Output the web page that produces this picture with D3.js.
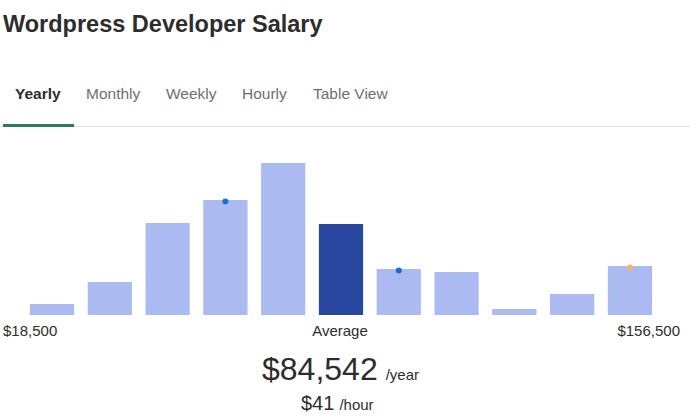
<!DOCTYPE html>
<html><head><meta charset="utf-8">
<script src="https://cdn.jsdelivr.net/npm/d3@7"></script>
<style>body{margin:0;background:#fff;font-family:Arial,"Liberation Sans",sans-serif}</style>
</head><body><svg id="c" width="690" height="419"></svg>
<script>
const bins = ["b1","b2","b3","b4","b5","b6","b7","b8","b9","b10","b11"];
const counts = [11,33,92,115,152,91,46,43,6,21,49];
const highlight = [false,false,false,false,false,true,false,false,false,false,false];
const dots = [{bin:"b4",color:"#1a6fd6"},{bin:"b7",color:"#1a6fd6"},{bin:"b11",color:"#f4b26b"}];
const tabs = ["Yearly","Monthly","Weekly","Hourly","Table View"];
const tabX = [15,86,166,242,313];

const svg = d3.select("#c");
svg.append("text").attr("x",3).attr("y",32).attr("font-size",23.5).attr("font-weight","bold").attr("fill","#2d2d2d").text("Wordpress Developer Salary");
tabs.forEach((t,i)=>svg.append("text").attr("x",tabX[i]).attr("y",99).attr("font-size",15.5)
  .attr("font-weight",i===0?"bold":"normal").attr("fill",i===0?"#2d2d2d":"#6f6f6f").text(t));
svg.append("rect").attr("x",0).attr("y",126).attr("width",690).attr("height",1).attr("fill","#e0e0e0");
svg.append("rect").attr("x",3).attr("y",124).attr("width",71).attr("height",3).attr("fill","#2a7a64");

const x = d3.scaleBand().domain(bins).range([23,659]).paddingInner(0.235).paddingOuter(0.12);
const y = d3.scaleLinear().domain([0,152]).range([315,163]);
svg.selectAll(".bar").data(bins).enter().append("rect")
  .attr("x",d=>x(d)).attr("width",x.bandwidth())
  .attr("y",(d,i)=>y(counts[i])).attr("height",(d,i)=>315-y(counts[i]))
  .attr("fill",(d,i)=>highlight[i]?"#2a47a0":"#abbbf2");
svg.selectAll(".dot").data(dots).enter().append("circle")
  .attr("cx",d=>x(d.bin)+x.bandwidth()/2)
  .attr("cy",d=>y(counts[bins.indexOf(d.bin)])+1.5).attr("r",3).attr("fill",d=>d.color);

svg.append("text").attr("x",3).attr("y",336).attr("font-size",15).attr("fill","#2d2d2d").text("$18,500");
svg.append("text").attr("x",340).attr("y",336).attr("text-anchor","middle").attr("font-size",15).attr("fill","#2d2d2d").text("Average");
svg.append("text").attr("x",680).attr("y",336).attr("text-anchor","end").attr("font-size",15).attr("fill","#2d2d2d").text("$156,500");
const t1 = svg.append("text").attr("x",262).attr("y",380).attr("fill","#2d2d2d");
t1.append("tspan").attr("font-size",32).text("$84,542");
t1.append("tspan").attr("font-size",15).attr("dx",8).text("/year");
const t2 = svg.append("text").attr("x",301).attr("y",410).attr("fill","#2d2d2d");
t2.append("tspan").attr("font-size",20).text("$41");
t2.append("tspan").attr("font-size",15).attr("dx",5).text("/hour");
</script></body></html>
